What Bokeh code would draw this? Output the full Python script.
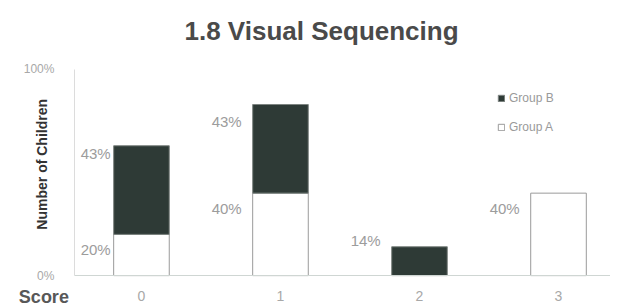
from bokeh.plotting import figure
from bokeh.models import (Range1d, FixedTicker, Legend, LegendItem,
                          ColumnDataSource, Title, LinearAxis)
from bokeh.core.properties import value
from bokeh.embed import file_html
from bokeh.resources import INLINE
import math

# ---- data ----
scores = [0, 1, 2, 3]
score_labels = ["0", "1", "2", "3"]
group_a = [20, 40, 0, 40]   # % of children, Group A (white)
group_b = [43, 43, 14, 0]   # % of children, Group B (dark)
y_ticks = [0, 100]
y_tick_labels = ["0%", "100%"]
title_text = "1.8  Visual Sequencing"
y_title = "Number of Children"
x_title = "Score"

FONT = "Liberation Sans"
DARK = "#2e3a36"
LABEL_GREY = "#9c9c9c"
BAR_W = 0.4

# the frame covers the whole area under the title; the axes sit at fixed
# positions inside it so that the captions can share their rows
X0, X1 = -1.014, 3.374          # visible x extent
AX_LEFT = -0.482                # where the value axis stands
Y0, Y1 = -14.98, 104.83

p = figure(width=610, height=306, output_backend="svg", toolbar_location=None,
           x_range=Range1d(X0, X1), y_range=Range1d(Y0, Y1),
           x_axis_location=None, y_axis_location=None,
           min_border_left=0, min_border_right=0, min_border_top=58,
           min_border_bottom=0, background_fill_color="white",
           border_fill_color="white")
p.outline_line_color = None
p.xgrid.grid_line_color = None
p.ygrid.grid_line_color = None

# title
p.title = Title(text=title_text, align="left", offset=184, standoff=27,
                text_font=FONT, text_font_size="26px", text_font_style="bold",
                text_color="#4a4a4a")

# segments (only non-zero parts)
a_x = [s for s, a in zip(scores, group_a) if a > 0]
a_top = [a for a in group_a if a > 0]
b_x = [s for s, b in zip(scores, group_b) if b > 0]
b_bot = [a for a, b in zip(group_a, group_b) if b > 0]
b_top = [a + b for a, b in zip(group_a, group_b) if b > 0]

src_a = ColumnDataSource(dict(x=a_x, bottom=[0] * len(a_x), top=a_top,
                              lab=[f"{v}%" for v in a_top]))
src_b = ColumnDataSource(dict(x=b_x, bottom=b_bot, top=b_top,
                              lab=[f"{b}%" for b in group_b if b > 0]))

rA = p.vbar(x="x", width=BAR_W, bottom="bottom", top="top", source=src_a,
            fill_color="white", line_color="#9a9a9a", line_width=1)
rB = p.vbar(x="x", width=BAR_W, bottom="bottom", top="top", source=src_b,
            fill_color=DARK, line_color="#7d8481", line_width=1)

# value labels, to the left of each segment's top
def offs_x(xs):
    return [-3 if x == scores[0] else -11 for x in xs]

src_a.data["xl"] = [x - BAR_W / 2 for x in a_x]
src_a.data["xo"] = offs_x(a_x)
src_a.data["yo"] = [15 for _ in a_x]
src_b.data["xl"] = [x - BAR_W / 2 for x in b_x]
src_b.data["xo"] = offs_x(b_x)
src_b.data["yo"] = [8 if x == scores[0] else (-6 if a == 0 else 17)
                    for x, a in zip(b_x, [group_a[scores.index(x)] for x in b_x])]

for src in (src_a, src_b):
    p.text(x="xl", y="top", text="lab", x_offset="xo", y_offset="yo",
           source=src, text_align="right", text_baseline="middle",
           text_font=value(FONT), text_font_size="15px",
           text_color=LABEL_GREY)

# value axis
yaxis = LinearAxis(fixed_location=AX_LEFT, bounds=(0, 100),
                   ticker=FixedTicker(ticks=y_ticks),
                   major_label_overrides=dict(zip(y_ticks, y_tick_labels)),
                   major_tick_line_color=None, minor_tick_line_color=None,
                   axis_line_color="#dcdcdc", major_label_standoff=14,
                   major_label_text_font=FONT, major_label_text_font_size="12px",
                   major_label_text_color="#a8a8a8")
p.add_layout(yaxis, "left")

# category axis
xaxis = LinearAxis(fixed_location=0, bounds=(AX_LEFT, X1),
                   ticker=FixedTicker(ticks=scores),
                   major_label_overrides=dict(zip(scores, score_labels)),
                   major_tick_line_color=None, minor_tick_line_color=None,
                   axis_line_color="#cfd6d3", major_label_standoff=9,
                   major_label_text_font=FONT, major_label_text_font_size="14px",
                   major_label_text_color="#a8a8a8")
p.add_layout(xaxis, "below")

# axis captions
p.text(x=[AX_LEFT - 0.22], y=[Y0 * 0.68], text=[x_title],
       text_align="center", text_baseline="middle", text_font=value(FONT),
       text_font_size="18px", text_font_style="bold", text_color="#585858")
p.text(x=[AX_LEFT - 0.23], y=[54], text=[y_title], angle=math.pi / 2,
       text_align="center", text_baseline="middle", text_font=value(FONT),
       text_font_size="14px", text_font_style="bold", text_color="#333333")

legend = Legend(items=[LegendItem(label="Group B", renderers=[rB]),
                       LegendItem(label="Group A", renderers=[rA])],
                location=(497, 169), orientation="vertical",
                glyph_width=8, glyph_height=8, label_height=20, spacing=9,
                label_standoff=4, padding=0, margin=0,
                border_line_color=None, background_fill_alpha=0,
                label_text_font=FONT, label_text_font_size="12px",
                label_text_color="#9a9a9a")
p.add_layout(legend)

open("out.html", "w").write(file_html(p, INLINE))
